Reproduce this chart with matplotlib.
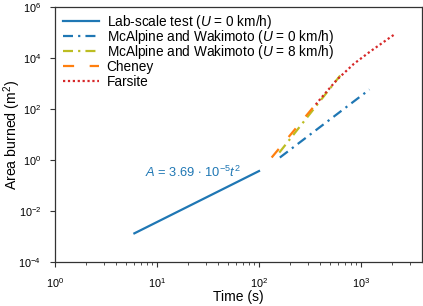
import matplotlib
matplotlib.use("Agg")
import matplotlib.pyplot as plt
from matplotlib.lines import Line2D
from matplotlib.ticker import LogLocator, NullLocator

plt.rcParams['font.family'] = ['Liberation Sans', 'DejaVu Sans']
plt.rcParams['mathtext.fontset'] = 'custom'
plt.rcParams['mathtext.rm'] = 'Liberation Sans'
plt.rcParams['mathtext.it'] = 'Liberation Sans:italic'
plt.rcParams['mathtext.bf'] = 'Liberation Sans:bold'

# --- data ---
lab_t = [6, 100]
lab_A = [0.00133, 0.369]

mw0_t = [160, 1210]
mw0_A = [1.25, 580]

mw8_t = [158, 625]
mw8_A = [1.95, 2050]

cheney_t = [133, 350]
cheney_A = [1.25, 135]

farsite_t = [360, 400, 580, 850, 1230, 1790, 2160]
farsite_A = [150, 250, 1400, 5900, 18000, 52000, 88000]

labels = [
    r'Lab-scale test ($U$ = 0 km/h)',
    r'McAlpine and Wakimoto ($U$ = 0 km/h)',
    r'McAlpine and Wakimoto ($U$ = 8 km/h)',
    'Cheney',
    'Farsite',
]
annotation = r'$A$ = 3.69 $\cdot$ 10$^{-5}$$t^2$'

W, H = 423, 306
fig = plt.figure(figsize=(W / 100, H / 100), dpi=100)
ax_l, ax_r, ax_t, ax_b = 55, 422, 7, 262
ax = fig.add_axes([ax_l / W, 1 - ax_b / H, (ax_r - ax_l) / W, (ax_b - ax_t) / H])
axw, axh = ax_r - ax_l, ax_b - ax_t

lw = 1.6
dashdot = (0, (4.5, 2.3, 1, 2.3))
styles = [
    dict(color='#1f77b4', ls='-'),
    dict(color='#1f77b4', ls=dashdot),
    dict(color='#bcbd22', ls=dashdot),
    dict(color='#ff7f0e', ls=(0, (5, 7))),
    dict(color='#d62728', ls=(0, (1, 1.2))),
]
series = [(lab_t, lab_A), (mw0_t, mw0_A), (mw8_t, mw8_A),
          (cheney_t, cheney_A), (farsite_t, farsite_A)]
for (t, a), st, lab in zip(series, styles, labels):
    ax.plot(t, a, lw=lw, label=lab, **st)

ax.set_xscale('log')
ax.set_yscale('log')
ax.set_xlim(1, 3960)
ax.set_ylim(1e-4, 1e6)
ax.set_yticks([1e-4, 1e-2, 1e0, 1e2, 1e4, 1e6])
ax.yaxis.set_minor_locator(NullLocator())
ax.xaxis.set_major_locator(LogLocator(base=10, numticks=20))
ax.xaxis.set_minor_locator(LogLocator(base=10, subs=range(2, 10), numticks=20))

ax.tick_params(which='major', length=3.5, width=0.8, labelsize=7.8, pad=6.5, color='#333333')
ax.tick_params(which='minor', length=2, width=0.6, color='#333333')
for s in ax.spines.values():
    s.set_color('#333333')
    s.set_linewidth(0.9)

ax.set_xlabel('Time (s)', fontsize=10)
ax.xaxis.set_label_coords(0.5, (ax_b - 290) / axh)
ax.set_ylabel(r'Area burned (m$^2$)', fontsize=10.2)
ax.yaxis.set_label_coords((23 - ax_l) / axw, 0.5)

ax.text(7.6, 0.33, annotation, color='#1f77b4', fontsize=9.3, va='center', ha='left')

# legend (drawn as a fixed-spacing key in axes coordinates)
row_px = [20.7, 35.8, 51.0, 66.2, 81.3]
hx0, hx1, tx = 63.3, 99.0, 106.7
for yp, st, lab in zip(row_px, styles, labels):
    yf = (ax_b - yp) / axh
    ax.add_line(Line2D([(hx0 - ax_l) / axw, (hx1 - ax_l) / axw], [yf, yf],
                       transform=ax.transAxes, lw=lw, clip_on=False, **st))
    ax.text((tx - ax_l) / axw, (ax_b - yp - 4.9) / axh, lab, transform=ax.transAxes,
            fontsize=9.8, va='baseline', ha='left')

fig.savefig('out.png', dpi=100)
